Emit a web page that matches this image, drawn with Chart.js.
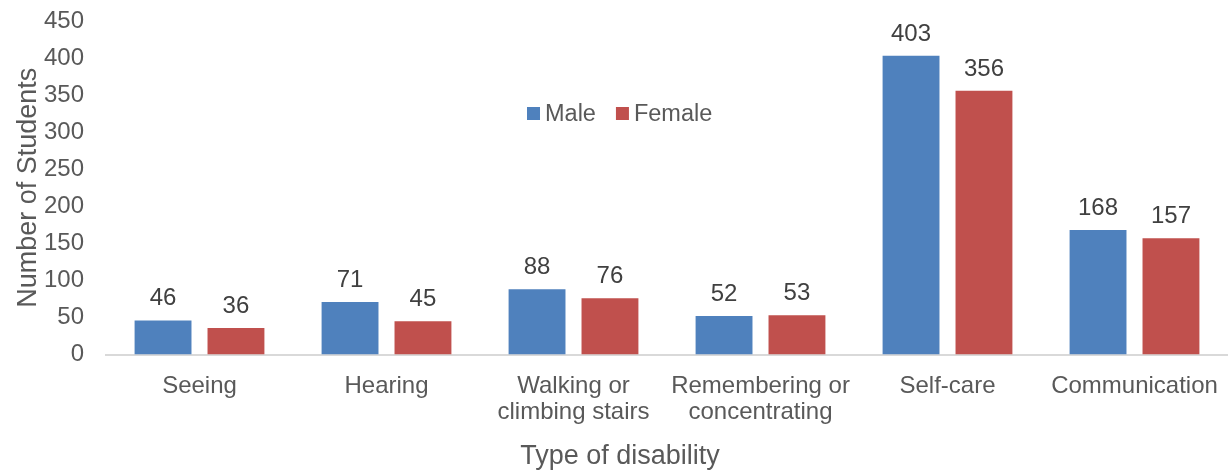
<!DOCTYPE html>
<html>
<head>
<meta charset="utf-8">
<script src="https://cdn.jsdelivr.net/npm/chart.js@4.4.1/dist/chart.umd.min.js"></script>
<style>
  html, body { margin: 0; padding: 0; background: #fff; }
  #wrap { width: 1228px; height: 473px; }
</style>
</head>
<body>
<div id="wrap"><canvas id="disabilityChart" width="1228" height="473"></canvas></div>
<script>
// chart data
const categories = [
  'Seeing',
  'Hearing',
  ['Walking or', 'climbing stairs'],
  ['Remembering or', 'concentrating'],
  'Self-care',
  'Communication'
];
const maleValues = [46, 71, 88, 52, 403, 168];
const femaleValues = [36, 45, 76, 53, 356, 157];
const yTicks = [0, 50, 100, 150, 200, 250, 300, 350, 400, 450];

const FONT = '"Liberation Sans", Arial, sans-serif';
const TEXT = '#595959';

// value labels above each bar
const barLabels = {
  id: 'barLabels',
  afterDatasetsDraw(chart){
    const c = chart.ctx;
    c.save();
    c.font = '24px ' + FONT;
    c.fillStyle = '#404040';
    c.textAlign = 'center';
    c.textBaseline = 'alphabetic';
    chart.data.datasets.forEach((ds, i) => {
      chart.getDatasetMeta(i).data.forEach((bar, j) => {
        c.fillText(ds.data[j], bar.x, bar.y - 15);
      });
    });
    c.restore();
  }
};

// legend floating in the middle of the plot
const floatLegend = {
  id: 'floatLegend',
  afterDraw(chart){
    const c = chart.ctx;
    c.save();
    c.font = '23.5px ' + FONT;
    c.textBaseline = 'middle';
    const y = 114;
    let x = 527;
    chart.data.datasets.forEach(ds => {
      c.fillStyle = ds.backgroundColor;
      c.fillRect(x, y - 7, 13, 13);
      c.fillStyle = TEXT;
      c.fillText(ds.label, x + 18, y + 1);
      x += 18 + c.measureText(ds.label).width + 20;
    });
    c.restore();
  }
};

new Chart(document.getElementById('disabilityChart').getContext('2d'), {
  type: 'bar',
  data: {
    labels: categories,
    datasets: [
      { label: 'Male', data: maleValues, backgroundColor: '#4f81bd', borderWidth: 0 },
      { label: 'Female', data: femaleValues, backgroundColor: '#c0504d', borderWidth: 0 }
    ]
  },
  options: {
    responsive: false,
    animation: false,
    layout: { padding: { top: 21, right: 0, left: 12, bottom: 0 } },
    datasets: { bar: { categoryPercentage: 0.78, barPercentage: 0.78 } },
    plugins: {
      legend: { display: false },
      tooltip: { enabled: false },
      // x axis title: centred on the whole picture, like the original
      title: {
        display: true,
        position: 'bottom',
        text: 'Type of disability',
        color: TEXT,
        font: { family: FONT, size: 27, weight: 'normal' },
        padding: { top: 4, bottom: 0 }
      }
    },
    scales: {
      x: {
        grid: { display: false, drawTicks: false },
        border: { display: true, color: '#d9d9d9', width: 2 },
        ticks: {
          color: TEXT,
          font: { family: FONT, size: 24, lineHeight: 1.08 },
          padding: 19,
          maxRotation: 0,
          autoSkip: false
        },
        afterFit(axis){
          axis.height = 82;
          axis.paddingLeft = 0;
          axis.paddingRight = 0;
        }
      },
      y: {
        min: 0,
        max: 450,
        afterBuildTicks(axis){ axis.ticks = yTicks.map(v => ({ value: v })); },
        grid: { display: false, drawTicks: false },
        border: { display: false },
        ticks: {
          color: TEXT,
          font: { family: FONT, size: 24 },
          padding: 22
        },
        title: {
          display: true,
          text: 'Number of Students',
          color: TEXT,
          font: { family: FONT, size: 27 },
          padding: { top: 0, bottom: 0 }
        },
        afterFit(axis){
          axis.width = 94;
          axis.paddingTop = 14;
          axis.paddingBottom = 0;
        }
      }
    }
  },
  plugins: [barLabels, floatLegend]
});
</script>
</body>
</html>
